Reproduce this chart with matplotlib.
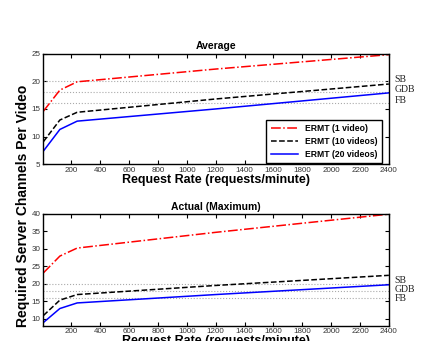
import numpy as np
import matplotlib
matplotlib.use("Agg")
import matplotlib.pyplot as plt

plt.rcParams['font.family'] = ['Liberation Sans', 'DejaVu Sans']

# request rates (requests/minute)
rate = [6, 120, 240, 1200, 2400]

# Average
avg_1 = [14.6, 18.4, 19.9, 22.2, 24.8]
avg_10 = [9.1, 13.0, 14.4, 16.8, 19.5]
avg_20 = [7.4, 11.3, 12.8, 15.0, 17.9]

# Actual (Maximum)
max_1 = [23.1, 27.9, 30.2, 34.7, 39.9]
max_10 = [10.9, 15.3, 16.9, 19.5, 22.4]
max_20 = [8.9, 12.9, 14.5, 16.9, 19.7]

# broadcast schemes reference levels
ref_names = ["SB", "GDB", "FB"]
ref_vals = [20, 18, 16]

fig = plt.figure(figsize=(4.34, 3.41), dpi=100)
ax1 = fig.add_axes([0.100, 0.518, 0.796, 0.325])
ax2 = fig.add_axes([0.100, 0.045, 0.796, 0.328])


def draw(ax, s1, s10, s20, ylim, yticks, title, label_dy):
    for v in ref_vals:
        ax.axhline(v, color='#aaaaaa', linestyle=':', linewidth=0.8)
    ax.plot(rate, s1, color='red', linestyle='-.', linewidth=1.1, label='ERMT (1 video)')
    ax.plot(rate, s10, color='black', linestyle='--', linewidth=1.1, label='ERMT (10 videos)')
    ax.plot(rate, s20, color='blue', linestyle='-', linewidth=1.1, label='ERMT (20 videos)')
    ax.set_xlim(rate[0], rate[-1])
    ax.set_ylim(*ylim)
    ax.set_xticks(np.arange(200, 2401, 200))
    ax.set_yticks(yticks)
    ax.tick_params(direction='in', top=True, right=True, length=3, width=0.8,
                   labelsize=5.8, labelcolor='#333333', pad=2)
    for sp in ax.spines.values():
        sp.set_linewidth(1.0)
    ax.set_title(title, fontsize=7.5, fontweight='bold', pad=3)
    for name, v, dy in zip(ref_names, ref_vals, label_dy):
        ax.annotate(name, xy=(1.0, v), xycoords=('axes fraction', 'data'),
                    xytext=(4, dy), textcoords='offset points', va='center',
                    fontsize=7, family='Liberation Serif', color='#222222')


draw(ax1, avg_1, avg_10, avg_20, (5, 25), [5, 10, 15, 20, 25], 'Average', [1, 2, 2])
draw(ax2, max_1, max_10, max_20, (8, 40), [10, 15, 20, 25, 30, 35, 40], 'Actual (Maximum)', [2, 1, -0.5])

ax1.set_xlabel('Request Rate (requests/minute)', fontsize=9, fontweight='bold', labelpad=0)
ax2.set_xlabel('Request Rate (requests/minute)', fontsize=9, fontweight='bold', labelpad=0)

leg = ax1.legend(loc='lower right', bbox_to_anchor=(0.98, 0.012), borderaxespad=0,
                 prop={'size': 6.2, 'weight': 'bold'}, fancybox=False, edgecolor='black',
                 framealpha=1, handlelength=3.2, borderpad=0.5, labelspacing=0.45)
leg.get_frame().set_linewidth(1.0)

fig.text(0.052, 0.395, 'Required Server Channels Per Video', rotation=90,
         fontsize=10, fontweight='bold', ha='center', va='center')

fig.savefig('out.png', dpi=100)
